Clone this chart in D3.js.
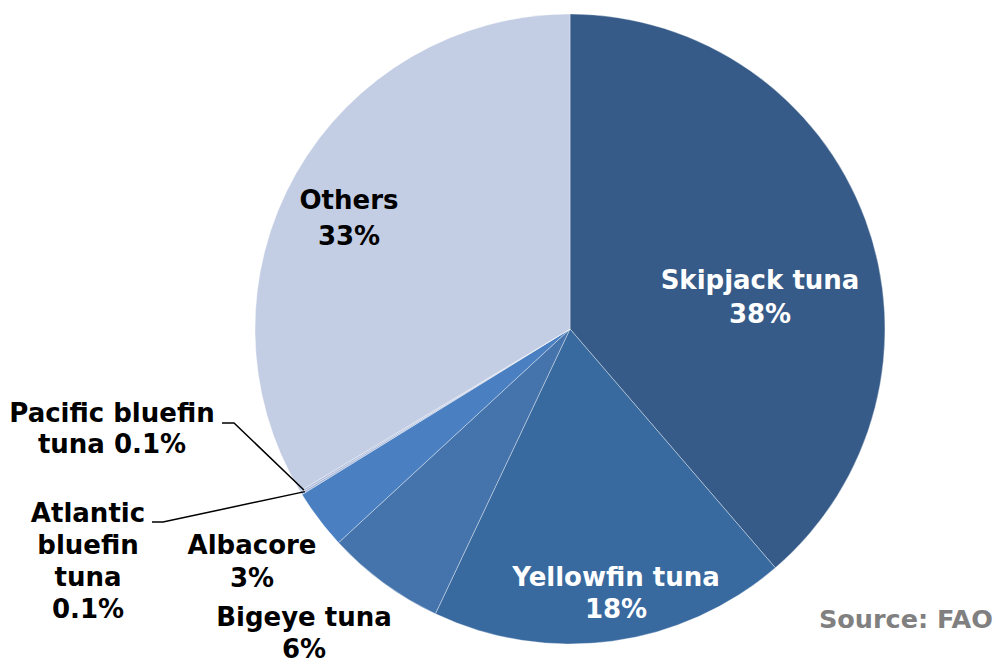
<!DOCTYPE html>
<html>
<head>
<meta charset="utf-8">
<script src="https://cdn.jsdelivr.net/npm/d3@7"></script>
<style>
  html, body { margin: 0; padding: 0; background: #fff; }
  svg { display: block; }
  text { font-family: "DejaVu Sans", Verdana, sans-serif; font-weight: bold; }
</style>
</head>
<body>
<svg id="chart" width="994" height="661"></svg>
<script>
// Share of tuna catch by species (%)
const species = ["Skipjack tuna", "Yellowfin tuna", "Bigeye tuna", "Albacore",
                 "Atlantic bluefin tuna", "Pacific bluefin tuna", "Others"];
const shares = [38, 18, 6, 3, 0.1, 0.1, 33];
const sliceColors = ["#365b88", "#396a9f", "#4573ab", "#4a80c1",
                     "#a3b3d8", "#acbadb", "#c3cde3"];
const labelLines = [
  ["Skipjack tuna", "38%"],
  ["Yellowfin tuna", "18%"],
  ["Bigeye tuna", "6%"],
  ["Albacore", "3%"],
  ["Atlantic", "bluefin", "tuna", "0.1%"],
  ["Pacific bluefin", "tuna 0.1%"],
  ["Others", "33%"]
];
const labelColors = ["#fff", "#fff", "#000", "#000", "#000", "#000", "#000"];
const sourceText = "Source: FAO";

const svg = d3.select("#chart");
const cx = 570, cy = 329, radius = 315;

const pie = d3.pie().sort(null).value(d => d)(shares);
const arc = d3.arc().innerRadius(0).outerRadius(radius);

const g = svg.append("g").attr("transform", `translate(${cx},${cy})`);

g.selectAll("path.slice")
  .data(pie)
  .join("path")
  .attr("class", "slice")
  .attr("d", arc)
  .attr("fill", (d, i) => sliceColors[i])
  .attr("stroke", "rgba(255,255,255,0.45)")
  .attr("stroke-width", 0.8);

// Label placement per slice: [center x, first line y, line spacing]
const labelPos = [
  [760, 280, 34],
  [616, 577, 32],
  [304, 617, 32],
  [252, 545, 33],
  [88, 513, 32],
  [112, 413, 31],
  [349, 200, 36]
];

// Leader lines for the two thin slices, ending at their outer edge
function edgePoint(d, r) {
  const a = (d.startAngle + d.endAngle) / 2;
  return [cx + r * Math.sin(a), cy - r * Math.cos(a)];
}
const leaders = [
  { i: 4, start: [152, 522], elbow: [163, 522] },
  { i: 5, start: [222, 423], elbow: [234, 423] }
];
leaders.forEach(l => {
  const end = edgePoint(pie[l.i], radius - 4);
  svg.append("path")
    .attr("d", d3.line()([l.start, l.elbow, end]))
    .attr("fill", "none")
    .attr("stroke", "#000")
    .attr("stroke-width", 1.5);
});

labelLines.forEach((lines, i) => {
  const [x, y0, dy] = labelPos[i];
  const t = svg.append("text")
    .attr("text-anchor", "middle")
    .attr("font-size", 26)
    .attr("fill", labelColors[i]);
  lines.forEach((s, k) => {
    t.append("tspan")
      .attr("x", x)
      .attr("y", y0 + k * dy)
      .attr("dominant-baseline", "central")
      .text(s);
  });
});

svg.append("text")
  .attr("x", 993)
  .attr("y", 619)
  .attr("text-anchor", "end")
  .attr("dominant-baseline", "central")
  .attr("font-size", 25.5)
  .attr("fill", "#808080")
  .text(sourceText);
</script>
</body>
</html>
